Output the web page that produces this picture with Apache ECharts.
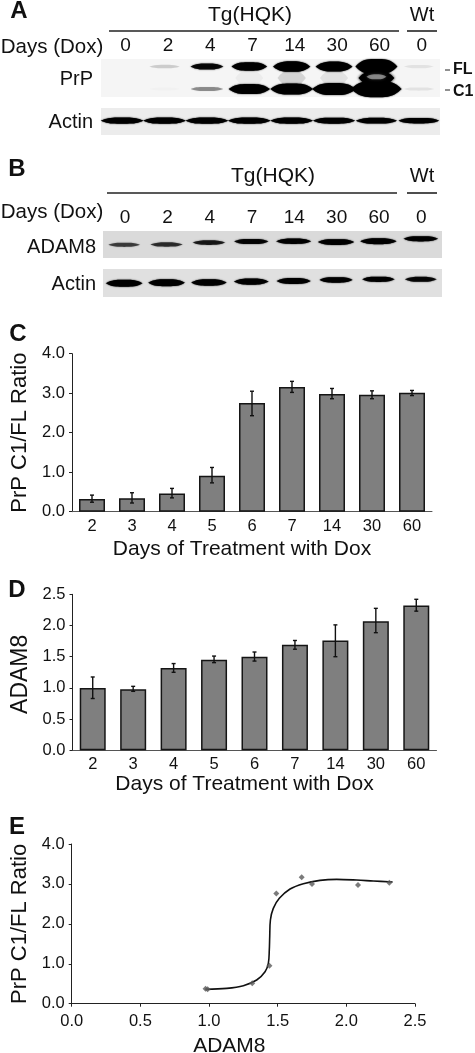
<!DOCTYPE html>
<html><head><meta charset="utf-8">
<style>html,body{margin:0;padding:0;background:#fff}#c{width:475px;height:1053px}</style>
<script src="https://cdn.jsdelivr.net/npm/echarts@6/dist/echarts.min.js"></script>
</head><body><div id="c"></div>
<script>
// ---- data ----
const laneLabels = ['0','2','4','7','14','30','60','0'];
const dayLabels = ['2','3','4','5','6','7','14','30','60'];

// blot band intensities (0 = absent), per lane
const prpFL = [0, .05, .3, .55, .75, .7, 1.2, .025];
const prpC1 = [0, .005, .12, .8, .9, 1, 1.5, .025];
const prpMiddle = [0, 0, 0, .012, .04, .025, 1, 0];
const prpMiddleLight = [0, 0, 0, 0, 0, 0, .2, 0];
const actinA = [.42, .42, .42, .42, .42, .4, .38, .35];
const adam8Blot = [.25, .28, .32, .38, .42, .48, .48, .4];
const adam8Migration = [.51, .5, .43, .39, .38, .41, .38, .29];
const actinB = [.5, .5, .45, .42, .4, .35, .33, .3];
const actinBMigration = [.51, .49, .48, .45, .43, .39, .37, .37];

// panel C
const ratioMean = [.32, .34, .46, .91, 2.75, 3.16, 2.98, 2.96, 3.01];
const ratioHigh = [.42, .48, .59, 1.12, 3.05, 3.30, 3.12, 3.06, 3.07];
const ratioLow = [.24, .22, .35, .73, 2.43, 3.02, 2.86, 2.86, 2.94];
// panel D
const adam8Mean = [1.0, .98, 1.32, 1.45, 1.5, 1.69, 1.76, 2.07, 2.32];
const adam8High = [1.175, 1.025, 1.39, 1.51, 1.575, 1.76, 2.01, 2.275, 2.42];
const adam8Low = [.83, .945, 1.25, 1.405, 1.43, 1.62, 1.5, 1.885, 2.23];
// panel E
const scatterX = [.975, .99, 1.315, 1.44, 1.49, 1.675, 1.75, 2.085, 2.313];
const scatterY = [.375, .36, .51, .95, 2.76, 3.17, 3.0, 2.97, 3.03];
const curveX = [.976, 1.129, 1.25, 1.347, 1.408, 1.432, 1.439, 1.442, 1.447, 1.468, 1.512, 1.59, 1.687, 1.808, 1.93, 2.075, 2.197, 2.337];
const curveY = [.359, .384, .451, .593, .802, 1.01, 1.344, 1.678, 2.096, 2.388, 2.639, 2.873, 3.006, 3.09, 3.115, 3.098, 3.073, 3.048];

// ---- drawing ----
const FONT = '"Liberation Sans", Arial, sans-serif';
const LENS = 'M0,50 C5,38 12,12 28,4 C40,0 60,0 72,4 C88,12 95,38 100,50 C95,62 88,88 72,96 C60,100 40,100 28,96 C12,88 5,62 0,50Z';

function bandSeries(g, values, rows, cfg) {
  return {
    type: 'custom', xAxisIndex: g, yAxisIndex: g, clip: false, z: cfg.z || 3, silent: true,
    data: values.map((v, i) => [i, Array.isArray(rows) ? rows[i] : rows, v]),
    renderItem(p, api) {
      const v = api.value(2);
      if (!v) return null;
      const c = api.coord([api.value(0), api.value(1)]);
      const w = cfg.w0 + cfg.kw * v, h = cfg.h0 + cfg.kh * v;
      const a = Math.min(1, v * (cfg.gain || 3));
      const col = cfg.color || '0,0,0';
      return {
        type: 'path',
        shape: { pathData: LENS, x: c[0] - w / 2, y: c[1] - h / 2, width: w, height: h, layout: 'cover' },
        style: { fill: `rgba(${col},${a})`, shadowBlur: cfg.blur == null ? 1.5 : cfg.blur, shadowColor: `rgba(${col},${a})` }
      };
    }
  };
}

function errSeries(g, high, low) {
  return {
    type: 'custom', xAxisIndex: g, yAxisIndex: g, z: 5, silent: true,
    data: high.map((v, i) => [i, v, low[i]]),
    renderItem(p, api) {
      const a = api.coord([api.value(0), api.value(1)]);
      const b = api.coord([api.value(0), api.value(2)]);
      const s = { stroke: '#111', lineWidth: 1.4 };
      const l = (x1, y1, x2, y2) => ({ type: 'line', shape: { x1, y1, x2, y2 }, style: s });
      return { type: 'group', children: [
        l(a[0], a[1], b[0], b[1]),
        l(a[0] - 2, a[1], a[0] + 2, a[1]),
        l(b[0] - 2, b[1], b[0] + 2, b[1])
      ] };
    }
  };
}

function barSeries(g, values) {
  return {
    type: 'bar', xAxisIndex: g, yAxisIndex: g, data: values, barWidth: 26, z: 3,
    itemStyle: { color: '#7f7f7f', borderColor: '#151515', borderWidth: 1.5 }
  };
}

const blotGrid = (left, top, width, height, bg) => ({ left, top, width, height, show: true, backgroundColor: bg, borderWidth: 0, outerBoundsMode: 'none' });
const plotGrid = (left, top, width, height) => ({ left, top, width, height, outerBoundsMode: 'none' });
const hiddenX = g => ({ type: 'category', gridIndex: g, show: false, data: laneLabels });
const hiddenY = g => ({ type: 'value', gridIndex: g, show: false, min: 0, max: 1, inverse: true });
const laneAxis = g => ({
  type: 'category', gridIndex: g, position: 'top', data: laneLabels,
  axisLine: { show: false }, axisTick: { show: false },
  axisLabel: { color: '#111', fontFamily: FONT, fontSize: 19, margin: 4, interval: 0 }
});

const AXC = '#222';
const tickStyle = { show: true, length: 3, lineStyle: { color: AXC, width: 1 } };
const valueY = (g, max, interval, name, gap, size, pad) => ({
  type: 'value', gridIndex: g, min: 0, max, interval,
  name, nameLocation: 'middle', nameGap: gap,
  nameTextStyle: { color: '#111', fontFamily: FONT, fontSize: size, padding: pad },
  axisLine: { show: true, lineStyle: { color: AXC, width: 1 } },
  axisTick: tickStyle, splitLine: { show: false },
  axisLabel: { color: '#111', fontFamily: FONT, fontSize: 16.5, margin: 7, formatter: v => v.toFixed(1) }
});
const dayAxis = (g, padRight, gap) => ({
  type: 'category', gridIndex: g, data: dayLabels,
  name: 'Days of Treatment with Dox', nameLocation: 'middle', nameGap: gap,
  nameTextStyle: { color: '#111', fontFamily: FONT, fontSize: 21, padding: [0, padRight, 0, 0] },
  axisLine: { lineStyle: { color: '#555', width: 1 } }, axisTick: { show: false },
  axisLabel: { color: '#111', fontFamily: FONT, fontSize: 16.5, margin: 6, interval: 0 }
});

const txt = (x, y, text, size, opt = {}) => ({
  type: 'text', x, y,
  style: { text, fill: '#111', font: `${opt.bold ? 'bold ' : ''}${size}px ${FONT}`, textAlign: opt.align || 'center', textVerticalAlign: 'middle' }
});
const rule = (x1, x2, y, w = 1.6) => ({ type: 'line', shape: { x1, y1: y, x2, y2: y }, style: { stroke: '#222', lineWidth: w } });

const option = {
  animation: false,
  backgroundColor: '#fff',
  grid: [
    blotGrid(101, 59, 339, 38, '#f5f5f5'),     // 0 PrP
    blotGrid(101, 108, 339, 27, '#ececec'),    // 1 Actin A
    blotGrid(103, 231, 339, 27, '#dadada'),    // 2 ADAM8
    blotGrid(103, 269, 339, 28, '#e0e0e0'),    // 3 Actin B
    plotGrid(72, 353.7, 360, 158),     // 4 C
    plotGrid(72.5, 594.3, 364, 156),   // 5 D
    plotGrid(71.7, 844, 343.3, 159.7), // 6 E
    plotGrid(104.5, 59, 338.4, 1),     // 7 lane labels A
    plotGrid(104, 231, 338.4, 1)       // 8 lane labels B
  ],
  xAxis: [
    hiddenX(0), hiddenX(1), hiddenX(2), hiddenX(3),
    dayAxis(4, 20, 27), dayAxis(5, 20, 23),
    {
      type: 'value', gridIndex: 6, min: 0, max: 2.5, interval: .5,
      name: 'ADAM8', nameLocation: 'middle', nameGap: 32,
      nameTextStyle: { color: '#111', fontFamily: FONT, fontSize: 21, padding: [0, 28, 0, 0] },
      axisLine: { lineStyle: { color: AXC, width: 1 } }, axisTick: tickStyle, splitLine: { show: false },
      axisLabel: { color: '#111', fontFamily: FONT, fontSize: 16.5, margin: 9, formatter: v => v.toFixed(1) }
    },
    laneAxis(7), laneAxis(8)
  ],
  yAxis: [
    hiddenY(0), hiddenY(1), hiddenY(2), hiddenY(3),
    valueY(4, 4, 1, 'PrP C1/FL Ratio', 41, 22, 0),
    valueY(5, 2.5, .5, 'ADAM8', 40, 23, [0, 4, 0, 0]),
    valueY(6, 4, 1, 'PrP C1/FL Ratio', 41, 22, 0),
    hiddenY(7), hiddenY(8)
  ],
  series: [
    bandSeries(0, prpFL, .2, { w0: 30, kw: 10, h0: 3, kh: 10 }),
    bandSeries(0, prpC1, .79, { w0: 31, kw: 13, h0: 3, kh: 9 }),
    bandSeries(0, prpMiddle, .5, { w0: 28, kw: 8, h0: 14, kh: 0, z: 2, blur: 3 }),
    bandSeries(0, prpMiddleLight, .47, { w0: 20, kw: 0, h0: 5, kh: 0, gain: 2.2, color: '255,255,255', z: 4, blur: 3 }),
    bandSeries(1, actinA, .47, { w0: 30, kw: 30, h0: 2, kh: 10 }),
    bandSeries(2, adam8Blot, adam8Migration, { w0: 26, kw: 22, h0: 2.5, kh: 7, gain: 2.4 }),
    bandSeries(3, actinB, actinBMigration, { w0: 24, kw: 26, h0: 2, kh: 10 }),
    barSeries(4, ratioMean), errSeries(4, ratioHigh, ratioLow),
    barSeries(5, adam8Mean), errSeries(5, adam8High, adam8Low),
    {
      type: 'line', xAxisIndex: 6, yAxisIndex: 6, smooth: .35, showSymbol: false, z: 3,
      lineStyle: { color: '#111', width: 1.6 }, data: curveX.map((x, i) => [x, curveY[i]])
    },
    {
      type: 'scatter', xAxisIndex: 6, yAxisIndex: 6, symbol: 'diamond', symbolSize: 6, z: 4,
      itemStyle: { color: '#5a5a5a' }, data: scatterX.map((x, i) => [x, scatterY[i]])
    }
  ],
  graphic: { elements: [
    txt(19, 11, 'A', 24, { bold: true }),
    txt(250, 15, 'Tg(HQK)', 21), txt(422, 15, 'Wt', 20),
    rule(109, 399, 31), rule(407, 437, 31),
    txt(52, 47, 'Days (Dox)', 20.5),
    txt(93, 79, 'PrP', 20, { align: 'right' }),
    txt(93, 122, 'Actin', 20, { align: 'right' }),
    rule(445, 450, 70, 1), rule(445, 450, 90, 1),
    txt(453, 70, 'FL', 16, { bold: true, align: 'left' }),
    txt(453, 92, 'C1', 16, { bold: true, align: 'left' }),
    txt(17, 169, 'B', 24, { bold: true }),
    txt(273, 176, 'Tg(HQK)', 21), txt(422, 176, 'Wt', 20),
    rule(107, 397, 193), rule(407, 437, 193),
    txt(52, 212, 'Days (Dox)', 20.5),
    txt(96, 247, 'ADAM8', 20, { align: 'right' }),
    txt(96, 284, 'Actin', 20, { align: 'right' }),
    txt(18, 334, 'C', 24, { bold: true }),
    txt(17, 590, 'D', 24, { bold: true }),
    txt(17, 827, 'E', 24, { bold: true })
  ] }
};
echarts.init(document.getElementById('c'), null, { renderer: 'canvas' }).setOption(option);
</script></body></html>
